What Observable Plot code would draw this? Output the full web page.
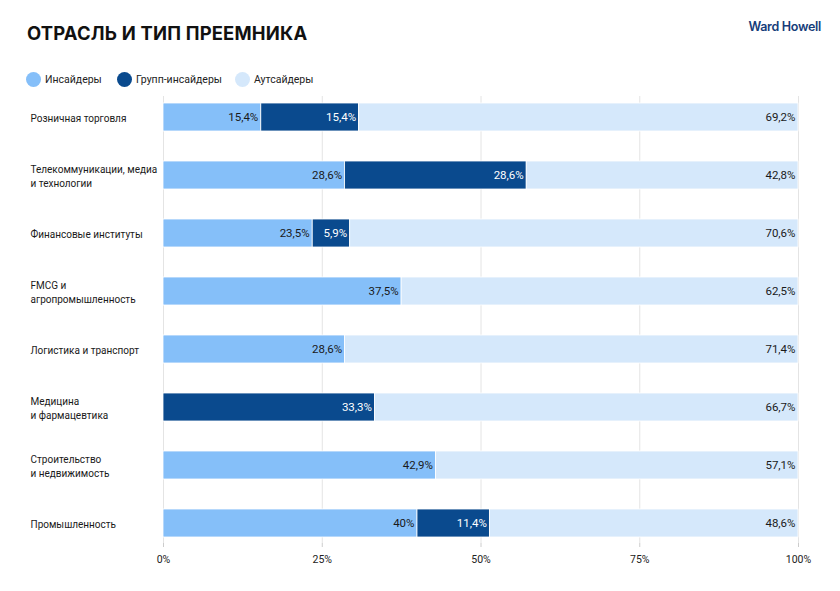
<!DOCTYPE html>
<html>
<head>
<meta charset="utf-8">
<script src="https://cdn.jsdelivr.net/npm/d3@7"></script>
<script src="https://cdn.jsdelivr.net/npm/@observablehq/plot@0.6"></script>
<style>
  body { margin: 0; background: #fff; font-family: Roboto, "Noto Sans", sans-serif; }
  #page { position: relative; width: 840px; height: 591px; overflow: hidden; }
  #title { position: absolute; left: 27px; top: 22px; font-family: Inter, sans-serif; font-size: 18.4px; font-weight: 700; color: #111; letter-spacing: 0.2px; }
  #brand { position: absolute; right: 19px; top: 19px; font-family: Inter, sans-serif; font-size: 12.5px; font-weight: 600; color: #163d7a; letter-spacing: -0.3px; }
  #legend { position: absolute; left: 26px; top: 72px; display: flex; font-size: 10.5px; color: #222; }
  .item { display: flex; align-items: center; }
  .sw { width: 15px; height: 15px; border-radius: 50%; margin-right: 4px; }
  #chart { position: absolute; left: 0; top: 90px; }
</style>
</head>
<body>
<div id="page">
  <div id="title">ОТРАСЛЬ И ТИП ПРЕЕМНИКА</div>
  <div id="brand">Ward Howell</div>
  <div id="legend"></div>
  <div id="chart"></div>
</div>
<script>
const sectors = [
  "Розничная торговля",
  "Телекоммуникации, медиа\nи технологии",
  "Финансовые институты",
  "FMCG и\nагропромышленность",
  "Логистика и транспорт",
  "Медицина\nи фармацевтика",
  "Строительство\nи недвижимость",
  "Промышленность"
]
const series = ["Инсайдеры", "Групп-инсайдеры", "Аутсайдеры"]
const colors = ["#85bff9", "#0a4a8e", "#d5e8fb"]
const textColors = ["#1a1a1a", "#ffffff", "#1a1a1a"]

const insiders      = [15.4, 28.6, 23.5, 37.5, 28.6, 0, 42.9, 40]
const groupInsiders = [15.4, 28.6, 5.9, 0, 0, 33.3, 0, 11.4]
const outsiders     = [69.2, 42.8, 70.6, 62.5, 71.4, 66.7, 57.1, 48.6]

const xTicks = [0, 25, 50, 75, 100]

const seriesValues = [insiders, groupInsiders, outsiders]
const rows = sectors.flatMap((s, i) =>
  series.map((k, j) => ({sector: s, type: k, idx: j, value: seriesValues[j][i]}))
)
const fmt = v => String(v).replace(".", ",") + "%"

// легенда
const legend = document.getElementById("legend")
const legendWidths = [91, 118, 100]
series.forEach((s, i) => {
  const item = document.createElement("div")
  item.className = "item"
  item.style.width = legendWidths[i] + "px"
  item.innerHTML = `<div class="sw" style="background:${colors[i]}"></div><span>${s}</span>`
  legend.appendChild(item)
})

const chart = Plot.plot({
  width: 840,
  height: 501,
  marginLeft: 163,
  marginRight: 42,
  marginTop: 6,
  marginBottom: 48,
  style: {fontFamily: "Roboto, 'Noto Sans', sans-serif", fontSize: "10.5px", color: "#222"},
  x: {domain: [0, 100], label: null},
  y: {domain: sectors, paddingInner: 0.52, paddingOuter: 0.1, axis: null},
  color: {domain: series, range: colors},
  marks: [
    Plot.gridX(xTicks, {stroke: "#e4e4e4", strokeOpacity: 1}),
    Plot.axisX({ticks: xTicks, tickFormat: d => d + "%", tickSize: 4, tickPadding: 8, stroke: "#cccccc", fill: "#222", label: null, fontSize: 10.5}),
    Plot.barX(rows, Plot.stackX({
      x: "value", y: "sector", fill: "type", order: series,
      stroke: "white", strokeWidth: 0.8
    })),
    Plot.text(rows.filter(d => d.value > 0), Plot.stackX2({
      x: "value", y: "sector", z: "type", order: series,
      text: d => fmt(d.value),
      fill: d => textColors[d.idx],
      textAnchor: "end", dx: -3, fontSize: 11.5
    })),
    Plot.text(sectors, {
      y: d => d, text: d => d, frameAnchor: "left", textAnchor: "start",
      dx: -133, fill: "#1a1a1a", fontSize: 10, lineHeight: 1.4
    })
  ]
})

document.getElementById("chart").append(chart)
</script>
</body>
</html>
